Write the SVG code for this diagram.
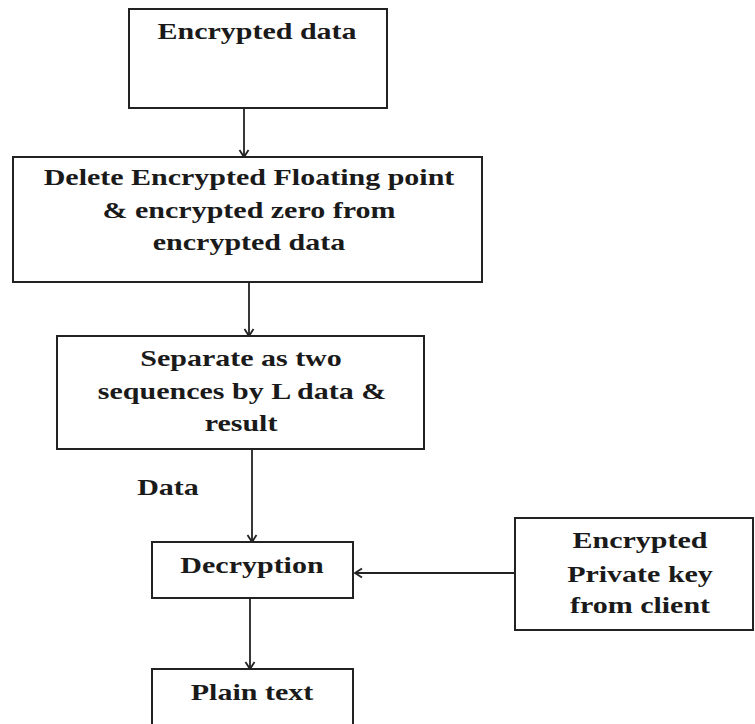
<svg xmlns="http://www.w3.org/2000/svg" width="755" height="724" viewBox="0 0 755 724">
  <style>
    .box { fill: #ffffff; stroke: #222222; stroke-width: 2; }
    .lbl { font-family: "Liberation Serif", "Times New Roman", serif; font-weight: bold; font-size: 24px; fill: #1a1a1a; text-anchor: middle; }
    .wire { fill: none; stroke: #222222; stroke-width: 1.8; }
  </style>
  <defs>
    <marker id="arrow" markerUnits="userSpaceOnUse" markerWidth="12" markerHeight="12" viewBox="0 0 12 12" refX="10" refY="6" orient="auto">
      <path d="M3,1.5 L10,6 L3,10.5" fill="none" stroke="#222222" stroke-width="1.8"/>
    </marker>
  </defs>
  <rect width="755" height="724" fill="#ffffff"/>

  <g id="connectors">
    <line class="wire" x1="244" y1="108" x2="244" y2="157" marker-end="url(#arrow)"/>
    <line class="wire" x1="249" y1="282" x2="249" y2="336" marker-end="url(#arrow)"/>
    <line class="wire" x1="252" y1="449" x2="252" y2="542" marker-end="url(#arrow)"/>
    <line class="wire" x1="250" y1="598" x2="250" y2="669" marker-end="url(#arrow)"/>
    <line class="wire" x1="515" y1="573" x2="355" y2="573" marker-end="url(#arrow)"/>
    <text class="lbl" transform="translate(168,495) scale(1.25,1)">Data</text>
  </g>

  <g id="encrypted-data">
    <rect class="box" x="129" y="9" width="258" height="99"/>
    <text class="lbl" transform="translate(257,39) scale(1.25,1)">Encrypted data</text>
  </g>

  <g id="delete-floating">
    <rect class="box" x="13" y="157" width="469" height="125"/>
    <text class="lbl" transform="translate(249,185) scale(1.25,1)">Delete Encrypted Floating point</text>
    <text class="lbl" transform="translate(249,218) scale(1.25,1)">&amp; encrypted zero from</text>
    <text class="lbl" transform="translate(249,250) scale(1.25,1)">encrypted data</text>
  </g>

  <g id="separate">
    <rect class="box" x="57" y="336" width="367" height="113"/>
    <text class="lbl" transform="translate(241,366) scale(1.25,1)">Separate as two</text>
    <text class="lbl" transform="translate(242,399) scale(1.25,1)">sequences by L data &amp;</text>
    <text class="lbl" transform="translate(241,431) scale(1.25,1)">result</text>
  </g>

  <g id="decryption">
    <rect class="box" x="152" y="542" width="201" height="56"/>
    <text class="lbl" transform="translate(252,573) scale(1.25,1)">Decryption</text>
  </g>

  <g id="private-key">
    <rect class="box" x="515" y="518" width="238" height="112"/>
    <text class="lbl" transform="translate(640,548) scale(1.25,1)">Encrypted</text>
    <text class="lbl" transform="translate(640,582) scale(1.25,1)">Private key</text>
    <text class="lbl" transform="translate(640,613) scale(1.25,1)">from client</text>
  </g>

  <g id="plain-text">
    <rect class="box" x="152" y="669" width="201" height="70"/>
    <text class="lbl" transform="translate(252,700) scale(1.25,1)">Plain text</text>
  </g>
</svg>
